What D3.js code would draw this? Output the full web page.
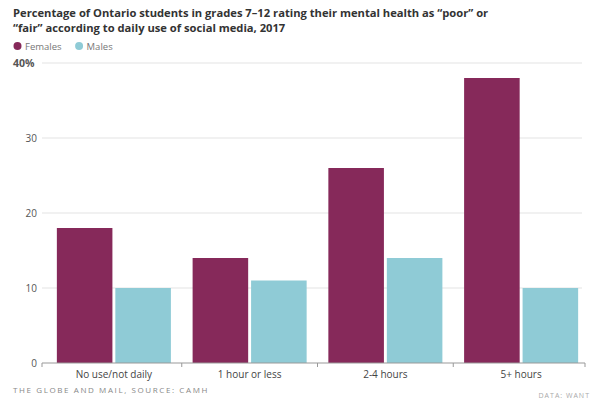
<!DOCTYPE html>
<html>
<head>
<meta charset="utf-8">
<script src="https://cdn.jsdelivr.net/npm/d3@7"></script>
<style>
  body { margin: 0; background: #fff; }
  text { font-family: "Open Sans", "DejaVu Sans", sans-serif; }
</style>
</head>
<body>
<svg id="chart" width="592" height="403" viewBox="0 0 592 403"></svg>
<script>
// data
const categories = ["No use/not daily", "1 hour or less", "2-4 hours", "5+ hours"]
const series = ["Females", "Males"]
const females = [18, 14, 26, 38]
const males = [10, 11, 14, 10]
const y_ticks = [0, 10, 20, 30, 40]

const svg = d3.select("#chart")
const colors = {"Females": "#86295a", "Males": "#8fcbd6"}

const rows = categories.map((c, i) => ({cat: c, Females: females[i], Males: males[i]}))

// title
const title = svg.append("g").attr("fill", "#333").style("font-weight", "bold").style("font-size", "11.2px")
title.append("text").attr("x", 13).attr("y", 17)
    .text("Percentage of Ontario students in grades 7\u201312 rating their mental health as \u201cpoor\u201d or")
title.append("text").attr("x", 13).attr("y", 32)
    .text("\u201cfair\u201d according to daily use of social media, 2017")

// legend
const legend = svg.append("g").attr("transform", "translate(14,46)")
let lx = 0
series.forEach((s) => {
    legend.append("circle").attr("cx", lx + 3.5).attr("cy", 0).attr("r", 4).attr("fill", colors[s])
    const t = legend.append("text").attr("x", lx + 11).attr("y", 3.5)
        .attr("fill", "#777").style("font-size", "9.5px").text(s)
    lx += 11 + t.node().getComputedTextLength() + 14
})

const y = d3.scaleLinear().domain([0, 40]).range([363, 63])
const x0 = d3.scaleBand().domain(categories).range([46, 589]).paddingInner(0.16).paddingOuter(0.08)
const x1 = d3.scaleBand().domain(series).range([0, x0.bandwidth()]).paddingInner(0.05)

// grid + y labels
const grid = svg.append("g")
grid.selectAll("line").data(y_ticks.filter(d => d > 0)).enter().append("line")
    .attr("x1", 42).attr("x2", 582)
    .attr("y1", d => y(d)).attr("y2", d => y(d))
    .attr("stroke", "#e3e3e3").attr("stroke-width", 1)
grid.selectAll("text").data(y_ticks).enter().append("text")
    .attr("x", d => d == 40 ? 13 : 37).attr("y", d => y(d) + 3.5)
    .attr("text-anchor", d => d == 40 ? "start" : "end")
    .attr("fill", "#555").style("font-size", d => d == 40 ? "10.5px" : "10px")
    .style("font-weight", d => d == 40 ? "bold" : "normal")
    .text(d => d == 40 ? "40%" : d)

// bars
const groups = svg.append("g").selectAll("g").data(rows).enter().append("g")
    .attr("transform", d => `translate(${x0(d.cat)},0)`)
groups.selectAll("rect").data(d => series.map(s => ({key: s, value: d[s]}))).enter().append("rect")
    .attr("x", d => x1(d.key))
    .attr("width", x1.bandwidth())
    .attr("y", d => y(d.value))
    .attr("height", d => y(0) - y(d.value))
    .attr("fill", d => colors[d.key])

// x axis
const xAxis = svg.append("g").attr("transform", `translate(0,${y(0)})`)
xAxis.append("line").attr("x1", 42).attr("x2", 585).attr("stroke", "#999")
const bounds = [42].concat(categories.slice(1).map(c => x0(c) - x0.step() * x0.paddingInner() / 2), [585])
xAxis.selectAll(".tick").data(bounds).enter().append("line")
    .attr("x1", d => d).attr("x2", d => d).attr("y1", 0).attr("y2", 4).attr("stroke", "#999")
xAxis.selectAll("text").data(categories).enter().append("text")
    .attr("x", d => x0(d) + x0.bandwidth() / 2).attr("y", 15)
    .attr("text-anchor", "middle").attr("fill", "#444").style("font-size", "10px")
    .text(d => d)

// source
svg.append("text").attr("x", 13).attr("y", 393).attr("fill", "#888").style("font-size", "8px")
    .style("letter-spacing", "1.6px")
    .text("THE GLOBE AND MAIL, SOURCE: CAMH")
svg.append("text").attr("x", 590).attr("y", 398).attr("text-anchor", "end").attr("fill", "#aaa")
    .style("font-size", "7px").style("letter-spacing", "1px")
    .text("DATA: WANT")
</script>
</body>
</html>
